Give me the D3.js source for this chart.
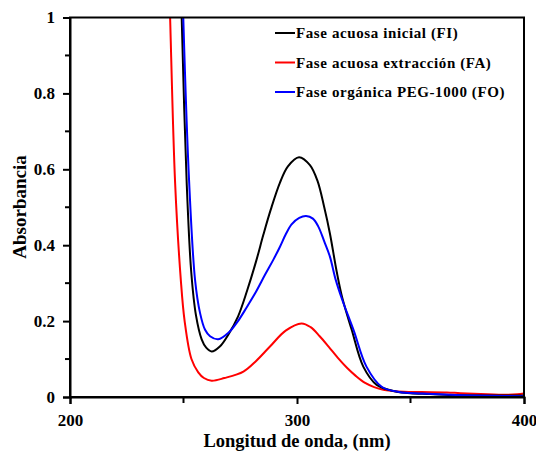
<!DOCTYPE html>
<html>
<head>
<meta charset="utf-8">
<script src="https://cdn.jsdelivr.net/npm/d3@7"></script>
<style>
  body { margin: 0; background: #fff; }
  svg text { font-family: "Liberation Serif", "Times New Roman", serif; font-weight: bold; fill: #000; }
</style>
</head>
<body>
<div id="chart"></div>
<script>
// wavelength (nm) / absorbance
const fiWave = [248.8, 249.2, 251.4, 253.4, 255.5, 258, 260, 262.4, 266, 269.8, 274, 278, 282, 285.2, 288.5, 292.5, 296, 300.9, 305.7, 309, 312, 314.5, 317.5, 320, 324.1, 329.2, 335.1, 343.9, 350, 358.6, 370, 385, 400];
const fiAbs = [1.1, 1.0, 0.565, 0.33, 0.215, 0.152, 0.13, 0.12, 0.133, 0.165, 0.212, 0.28, 0.358, 0.428, 0.495, 0.565, 0.608, 0.632, 0.611, 0.57, 0.5, 0.431, 0.33, 0.26, 0.177, 0.08, 0.032, 0.014, 0.01, 0.008, 0.005, 0.004, 0.004];

const faWave = [243.6, 244.1, 246.3, 248.8, 250.5, 253.5, 256.5, 259, 262.4, 268, 276.4, 282, 288.1, 295, 302, 306, 310, 314, 318, 322, 326, 330, 334, 338, 342, 347, 355, 366, 372, 381, 392, 397, 400];
const faAbs = [1.1, 1.0, 0.565, 0.31, 0.2, 0.1, 0.065, 0.05, 0.043, 0.05, 0.067, 0.095, 0.133, 0.175, 0.194, 0.184, 0.16, 0.132, 0.103, 0.077, 0.055, 0.037, 0.026, 0.019, 0.016, 0.014, 0.013, 0.012, 0.01, 0.008, 0.006, 0.007, 0.009];

const foWave = [249.5, 249.9, 252.5, 255.1, 257.3, 259.5, 261.7, 265.3, 269.8, 274, 278, 282, 285.9, 289.6, 292.5, 295, 297.6, 301, 304, 307, 309.4, 312, 314.5, 317, 320, 325, 330.6, 337.3, 345, 355, 370, 385, 400];
const foAbs = [1.1, 1.0, 0.565, 0.308, 0.221, 0.177, 0.16, 0.152, 0.169, 0.2, 0.238, 0.278, 0.322, 0.362, 0.396, 0.428, 0.455, 0.472, 0.477, 0.47, 0.449, 0.41, 0.37, 0.31, 0.255, 0.175, 0.08, 0.027, 0.013, 0.009, 0.005, 0.003, 0.002];

const seriesNames = ["Fase acuosa inicial (FI)", "Fase acuosa extracción (FA)", "Fase orgánica PEG-1000 (FO)"];
const seriesColors = ["#000000", "#ff0000", "#0000ff"];

const xTicksMajor = [200, 300, 400];
const xTicksMinor = [250, 350];
const yTicksMajor = [0, 0.2, 0.4, 0.6, 0.8, 1];
const yTicksMinor = [0.1, 0.3, 0.5, 0.7, 0.9];

const width = 536;
const height = 452;
const margin = { top: 17.5, right: 12, bottom: 55, left: 70 };

const svg = d3.select("#chart").append("svg")
  .attr("width", width)
  .attr("height", height);

const x = d3.scaleLinear().domain([200, 400]).range([margin.left, width - margin.right]);
const y = d3.scaleLinear().domain([0, 1]).range([height - margin.bottom, margin.top]);

svg.append("defs").append("clipPath").attr("id", "plot-clip")
  .append("rect")
  .attr("x", margin.left)
  .attr("y", margin.top)
  .attr("width", width - margin.left - margin.right)
  .attr("height", height - margin.top - margin.bottom);

const series = [
  { name: seriesNames[0], color: seriesColors[0], pts: fiWave.map((w, i) => [w, fiAbs[i]]) },
  { name: seriesNames[1], color: seriesColors[1], pts: faWave.map((w, i) => [w, faAbs[i]]) },
  { name: seriesNames[2], color: seriesColors[2], pts: foWave.map((w, i) => [w, foAbs[i]]) },
];

const line = d3.line()
  .x((d) => x(d[0]))
  .y((d) => y(d[1]))
  .curve(d3.curveCatmullRom.alpha(0.5));

const curves = svg.append("g").attr("clip-path", "url(#plot-clip)");
// draw order: red, black, blue on top
[series[1], series[0], series[2]].forEach((s) => {
  curves.append("path")
    .datum(s.pts)
    .attr("fill", "none")
    .attr("stroke", s.color)
    .attr("stroke-width", 2)
    .attr("stroke-linejoin", "round")
    .attr("d", line);
});

// frame
svg.append("rect")
  .attr("x", margin.left)
  .attr("y", margin.top)
  .attr("width", width - margin.left - margin.right)
  .attr("height", height - margin.top - margin.bottom)
  .attr("fill", "none")
  .attr("stroke", "#000")
  .attr("stroke-width", 2);

// y axis
const yAxis = svg.append("g").attr("transform", `translate(${margin.left},0)`)
  .call(d3.axisLeft(y).tickValues(yTicksMajor).tickSize(7).tickPadding(8).tickFormat((d) => d3.format("")(d)));
yAxis.append("g").selectAll("line").data(yTicksMinor).join("line")
  .attr("x1", 0).attr("x2", -5)
  .attr("y1", (d) => y(d)).attr("y2", (d) => y(d))
  .attr("stroke", "#000").attr("stroke-width", 2);

// x axis
const xAxis = svg.append("g").attr("transform", `translate(0,${height - margin.bottom})`)
  .call(d3.axisBottom(x).tickValues(xTicksMajor).tickSize(7).tickPadding(10));
xAxis.append("g").selectAll("line").data(xTicksMinor).join("line")
  .attr("x1", (d) => x(d)).attr("x2", (d) => x(d))
  .attr("y1", 0).attr("y2", 6)
  .attr("stroke", "#000").attr("stroke-width", 2);

[xAxis, yAxis].forEach((g) => {
  g.select(".domain").attr("stroke-width", 2);
  g.selectAll(".tick line").attr("stroke-width", 2);
  g.selectAll(".tick text")
    .attr("font-family", "'Liberation Serif', serif")
    .attr("font-weight", "bold")
    .attr("font-size", 17)
    .attr("fill", "#000");
});

// axis titles
svg.append("text")
  .attr("x", x(300))
  .attr("y", 447)
  .attr("text-anchor", "middle")
  .attr("font-size", 18.5)
  .text("Longitud de onda, (nm)");

svg.append("text")
  .attr("transform", "translate(26,207) rotate(-90)")
  .attr("text-anchor", "middle")
  .attr("font-size", 19)
  .text("Absorbancia");

// legend
const legend = svg.append("g").attr("transform", "translate(275,33)");
series.forEach((s, i) => {
  const row = legend.append("g").attr("transform", `translate(0,${i * 29.5})`);
  row.append("line")
    .attr("x1", 0).attr("x2", 20)
    .attr("y1", 0).attr("y2", 0)
    .attr("stroke", s.color)
    .attr("stroke-width", 2);
  row.append("text")
    .attr("x", 21)
    .attr("y", 5)
    .attr("font-size", 15)
    .attr("letter-spacing", 0.6)
    .text(s.name);
});
</script>
</body>
</html>
